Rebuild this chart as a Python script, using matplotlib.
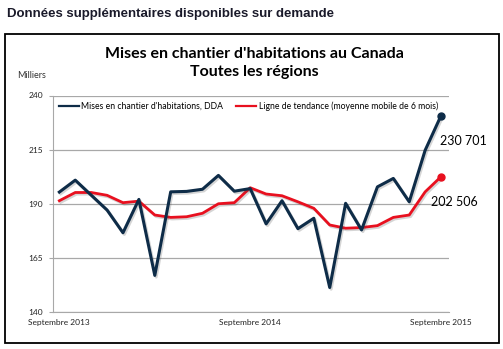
import matplotlib
matplotlib.use("Agg")
import matplotlib.pyplot as plt
import matplotlib.patheffects as pe
from matplotlib.patches import Rectangle

# Monthly housing starts, Sept 2013 - Sept 2015 (thousands, SAAR)
months = list(range(25))
starts = [195.4, 200.9, 194.0, 187.1, 176.6, 192.0, 156.9, 195.5, 195.7, 196.7,
          203.1, 195.8, 197.0, 180.7, 191.4, 178.5, 183.3, 151.3, 190.2, 177.9,
          197.8, 201.7, 190.9, 214.7, 230.701]
trend = [191.4, 195.2, 195.2, 193.9, 190.5, 191.2, 184.8, 183.7, 184.0, 185.6,
         190.0, 190.5, 197.4, 194.5, 193.7, 190.9, 187.9, 180.2, 178.7, 179.0,
         179.9, 183.7, 184.8, 195.5, 202.506]
xtick_pos = [0, 12, 24]
xtick_labels = ["Septembre 2013", "Septembre 2014", "Septembre 2015"]
yticks = [140, 165, 190, 215, 240]

blue = "#0e2c48"
red = "#e8101f"
font = ["Lato", "DejaVu Sans"]

fig = plt.figure(figsize=(5.03, 3.49), dpi=100)
fig.patch.set_facecolor("white")

# outer frame of the chart image
fig.patches.append(Rectangle((5 / 503, 1 - 343 / 349), 494 / 503, 309 / 349,
                             transform=fig.transFigure, fill=False,
                             edgecolor="black", linewidth=1.3))

fig.text(7 / 503, 1 - 14 / 349, "Données supplémentaires disponibles sur demande",
         fontsize=9.5, fontweight="bold", family="Liberation Sans",
         color="#1a1a2a", va="center", ha="left")

fig.text(254 / 503, 1 - 54 / 349, "Mises en chantier d'habitations au Canada",
         fontsize=11.5, fontweight="bold", family=font, ha="center", va="center")
fig.text(254 / 503, 1 - 72 / 349, "Toutes les régions",
         fontsize=11.5, fontweight="bold", family=font, ha="center", va="center")
fig.text(17 / 503, 1 - 76 / 349, "Milliers", fontsize=6.5, family=font,
         ha="left", va="center", color="#333333")

ax = fig.add_axes([53 / 503, 1 - 312 / 349, 396 / 503, 216.5 / 349])

shadow = [pe.SimpleLineShadow(offset=(1.0, -1.2), alpha=0.22, shadow_color="#444444"),
          pe.Normal()]
ax.plot(months, starts, color=blue, lw=2.2, path_effects=shadow, zorder=4,
        label="Mises en chantier d'habitations, DDA")
ax.plot(months, trend, color=red, lw=2.0, path_effects=shadow, zorder=3,
        label="Ligne de tendance (moyenne mobile de 6 mois)")
ax.plot(months[-1], starts[-1], "o", color=blue, ms=5, zorder=5)
ax.plot(months[-1], trend[-1], "o", color=red, ms=5, zorder=5)

ax.annotate("230 701", (months[-1], starts[-1]), xytext=(-1, -18),
            textcoords="offset points", fontsize=9, family=font, ha="left", va="center")
ax.annotate("202 506", (months[-1], trend[-1]), xytext=(-7, -18),
            textcoords="offset points", fontsize=9, family=font, ha="left", va="center")

ax.set_xlim(-0.4, 24.5)
ax.set_ylim(140, 240)
ax.set_yticks(yticks)
ax.yaxis.grid(True, color="#a8a8a8", lw=0.9)
ax.set_axisbelow(True)
ax.set_xticks(xtick_pos)
ax.set_xticklabels(xtick_labels)
ax.tick_params(axis="x", length=0, pad=5, labelsize=6, labelcolor="#222222")
ax.tick_params(axis="y", length=3, color="#a8a8a8", pad=4, labelsize=6,
               labelcolor="#222222")
for lab in ax.get_xticklabels() + ax.get_yticklabels():
    lab.set_family(font)
for s in ["top", "right"]:
    ax.spines[s].set_visible(False)
ax.spines["left"].set_color("#a8a8a8")
ax.spines["bottom"].set_color("#a8a8a8")

leg = ax.legend(loc="upper left", bbox_to_anchor=(0.0, 1.0), ncol=2, frameon=False,
                handlelength=2.3, handletextpad=0.3, columnspacing=1.5,
                borderaxespad=0.3, prop={"family": font, "size": 6.2})
for h in leg.get_lines():
    h.set_linewidth(1.6)
    h.set_path_effects([])

fig.savefig("out.png", dpi=100, facecolor="white")
